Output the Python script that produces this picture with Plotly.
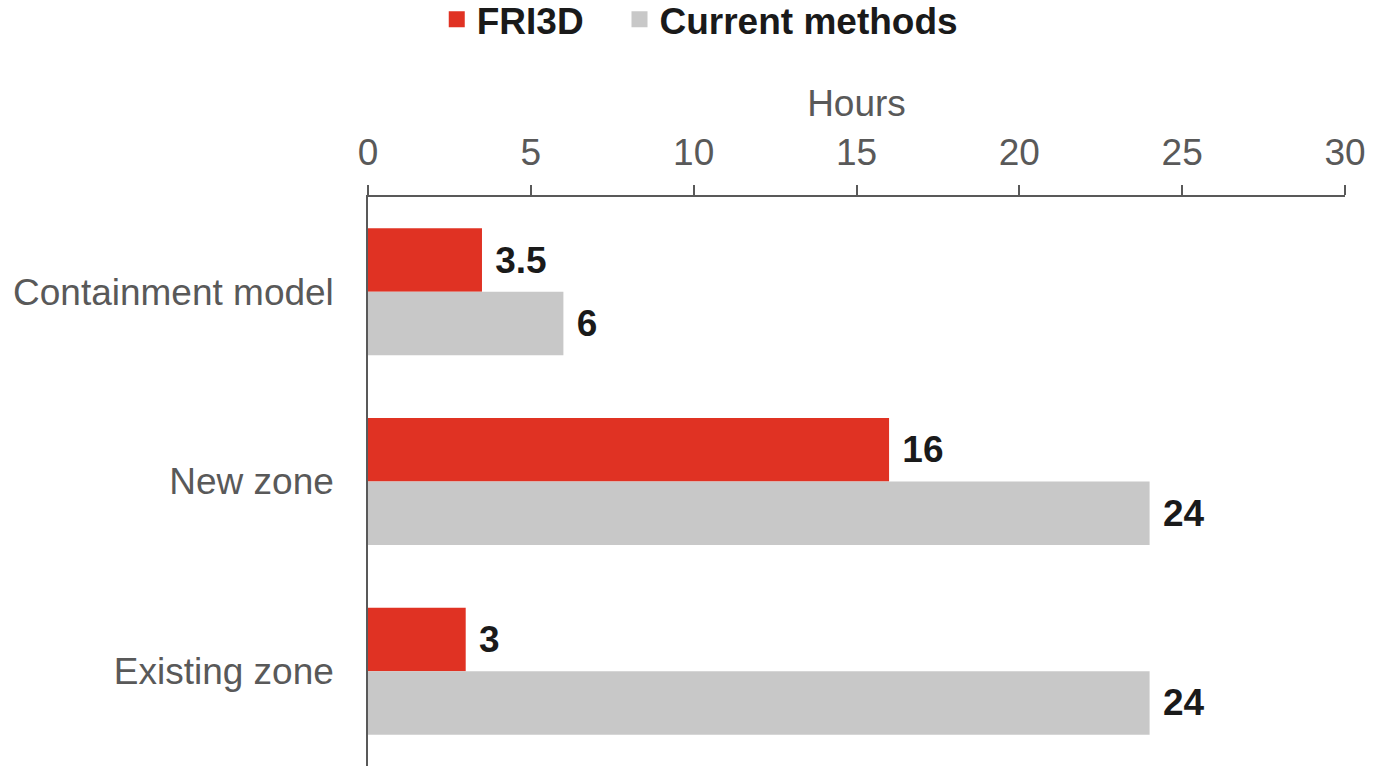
import plotly.graph_objects as go

categories = ["Containment model", "New zone", "Existing zone"]
fri3d = [3.5, 16, 3]
current = [6, 24, 24]
fri3d_labels = ["3.5", "16", "3"]
current_labels = ["6", "24", "24"]
tick_vals = [0, 5, 10, 15, 20, 25, 30]

RED = "#E03223"
GRAY = "#C8C8C8"
FONT = "Liberation Sans, Arial, sans-serif"
FS = 37

fig = go.Figure()
fig.add_trace(go.Bar(
    y=categories, x=fri3d, orientation="h", name="FRI3D",
    marker=dict(color=RED, line=dict(width=0)),
    text=["\u00a0" + t for t in fri3d_labels], textposition="outside",
    textfont=dict(family=FONT, size=FS, color="#1a1a1a", weight="bold"),
    cliponaxis=False, showlegend=False,
))
fig.add_trace(go.Bar(
    y=categories, x=current, orientation="h", name="Current methods",
    marker=dict(color=GRAY, line=dict(width=0)),
    text=["\u00a0" + t for t in current_labels], textposition="outside",
    textfont=dict(family=FONT, size=FS, color="#1a1a1a", weight="bold"),
    cliponaxis=False, showlegend=False,
))
# legend entries
for name, col in [("FRI3D\u00a0\u00a0\u00a0", RED), ("Current methods", GRAY)]:
    fig.add_trace(go.Scatter(
        x=[None], y=[None], mode="markers", name=name,
        marker=dict(symbol="square", size=19, color=col),
        showlegend=True,
    ))

fig.update_layout(
    width=1384, height=766,
    margin=dict(l=368, r=39, t=197, b=0, autoexpand=False),
    paper_bgcolor="white", plot_bgcolor="white",
    barmode="group", bargap=0.33, bargroupgap=0,
    font=dict(family=FONT, color="#595959"),
    legend=dict(
        orientation="h", xref="container", yref="paper",
        x=0.5056, xanchor="center", y=1.366, yanchor="top",
        font=dict(family=FONT, size=FS, color="#1a1a1a", weight="bold"),
        itemwidth=30, tracegroupgap=0,
    ),
    xaxis=dict(
        side="top", range=[0, 30], tickvals=tick_vals,
        showgrid=False, zeroline=False,
        showline=True, linecolor="#595959", linewidth=1.5,
        ticks="outside", ticklen=10, tickcolor="#595959", tickwidth=1.5,
        tickfont=dict(family=FONT, size=FS, color="#595959"),
        ticklabelstandoff=5,
        title=dict(text="Hours", font=dict(family=FONT, size=FS, color="#595959"), standoff=5),
    ),
    yaxis=dict(
        autorange="reversed", showgrid=False, zeroline=False,
        showline=True, linecolor="#595959", linewidth=1.5,
        ticks="", tickfont=dict(family=FONT, size=FS, color="#595959"),
        ticklabelstandoff=25,
    ),
)

fig.write_html("out.html")
